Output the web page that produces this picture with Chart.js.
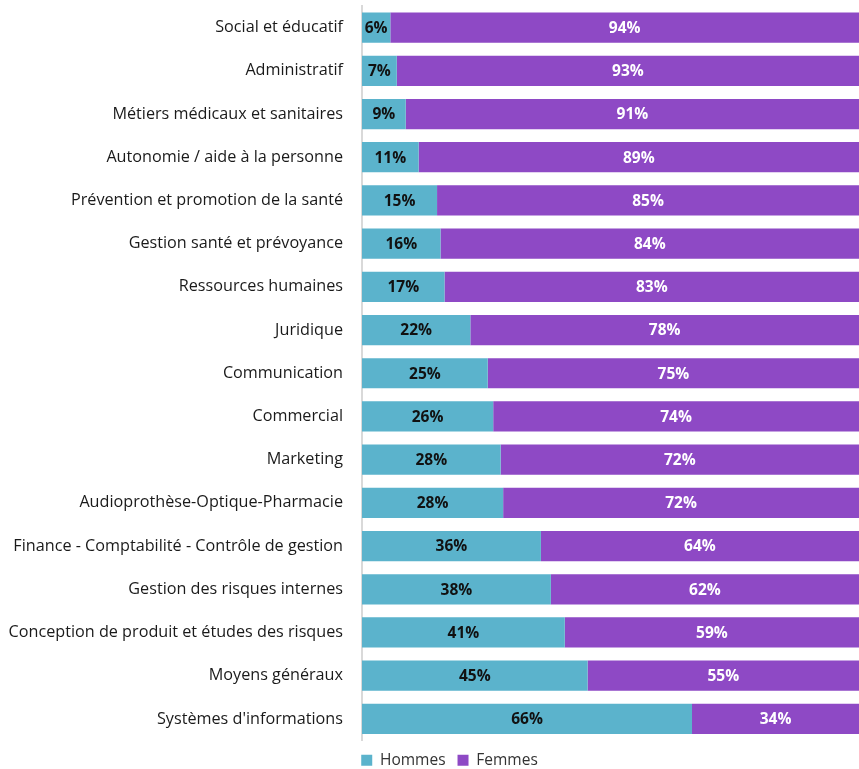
<!DOCTYPE html>
<html><head><meta charset="utf-8">
<script src="https://cdn.jsdelivr.net/npm/chart.js@4"></script>
<style>html,body{margin:0;padding:0;background:#fff}#w{width:859px;height:769px}</style>
</head><body><div id="w"><canvas id="c"></canvas></div>
<script>
const categories = ["Social et éducatif","Administratif","Métiers médicaux et sanitaires","Autonomie / aide à la personne","Prévention et promotion de la santé","Gestion santé et prévoyance","Ressources humaines","Juridique","Communication","Commercial","Marketing","Audioprothèse-Optique-Pharmacie","Finance - Comptabilité - Contrôle de gestion","Gestion des risques internes","Conception de produit et études des risques","Moyens généraux","Systèmes d'informations"];
const hommes = [5.7,7.0,8.8,11.4,15.1,15.8,16.6,21.8,25.3,26.4,27.9,28.4,36.0,38.0,40.8,45.4,66.4];
const femmes = [94.3,93.0,91.2,88.6,84.9,84.2,83.4,78.2,74.7,73.6,72.1,71.6,64.0,62.0,59.2,54.6,33.6];
const seriesNames = ["Hommes","Femmes"];
const FONT = "'Open Sans'";

const labelPlugin = {
  id:'segLabels',
  afterDatasetsDraw(chart){
    const ctx = chart.ctx;
    ctx.save();
    ctx.font = "bold 15.5px " + FONT;
    ctx.textAlign = 'center'; ctx.textBaseline = 'middle';
    chart.data.datasets.forEach((ds, di) => {
      const meta = chart.getDatasetMeta(di);
      ctx.fillStyle = di === 0 ? '#111' : '#fff';
      meta.data.forEach((el, i) => {
        const p = el.getProps(['x','y','base'], true);
        const cx = (p.x + p.base) / 2;
        ctx.fillText(Math.round(ds.data[i]) + '%', cx, p.y + 1);
      });
    });
    ctx.restore();
  },
  afterLayout(chart){
    if (chart.legend){ chart.legend.left += 20; chart.legend.right += 20; }
  }
};

new Chart(document.getElementById('c'), {
  type:'bar',
  data:{
    labels: categories,
    datasets:[
      {label:seriesNames[0], data:hommes, backgroundColor:'#5BB3CC', categoryPercentage:1, barPercentage:0.70},
      {label:seriesNames[1], data:femmes, backgroundColor:'#8E49C5', categoryPercentage:1, barPercentage:0.70}
    ]
  },
  options:{
    indexAxis:'y',
    responsive:true, maintainAspectRatio:false, animation:false,
    layout:{padding:{top:6,bottom:-9,left:0,right:0}},
    scales:{
      x:{stacked:true, display:false, min:0, max:100},
      y:{stacked:true, grid:{display:false}, border:{display:true, color:'#d9d9d9', width:2},
         ticks:{color:'#1a1a1a', padding:11, font:{family:FONT, size:16.2}},
         afterFit(s){ s.width = 362; s.paddingTop = 0; s.paddingBottom = 0; }}
    },
    plugins:{
      legend:{position:'bottom', labels:{boxWidth:11, boxHeight:11, padding:12, color:'#333', font:{family:FONT, size:15.5}}},
      tooltip:{enabled:false}
    }
  },
  plugins:[labelPlugin]
});
</script></body></html>
